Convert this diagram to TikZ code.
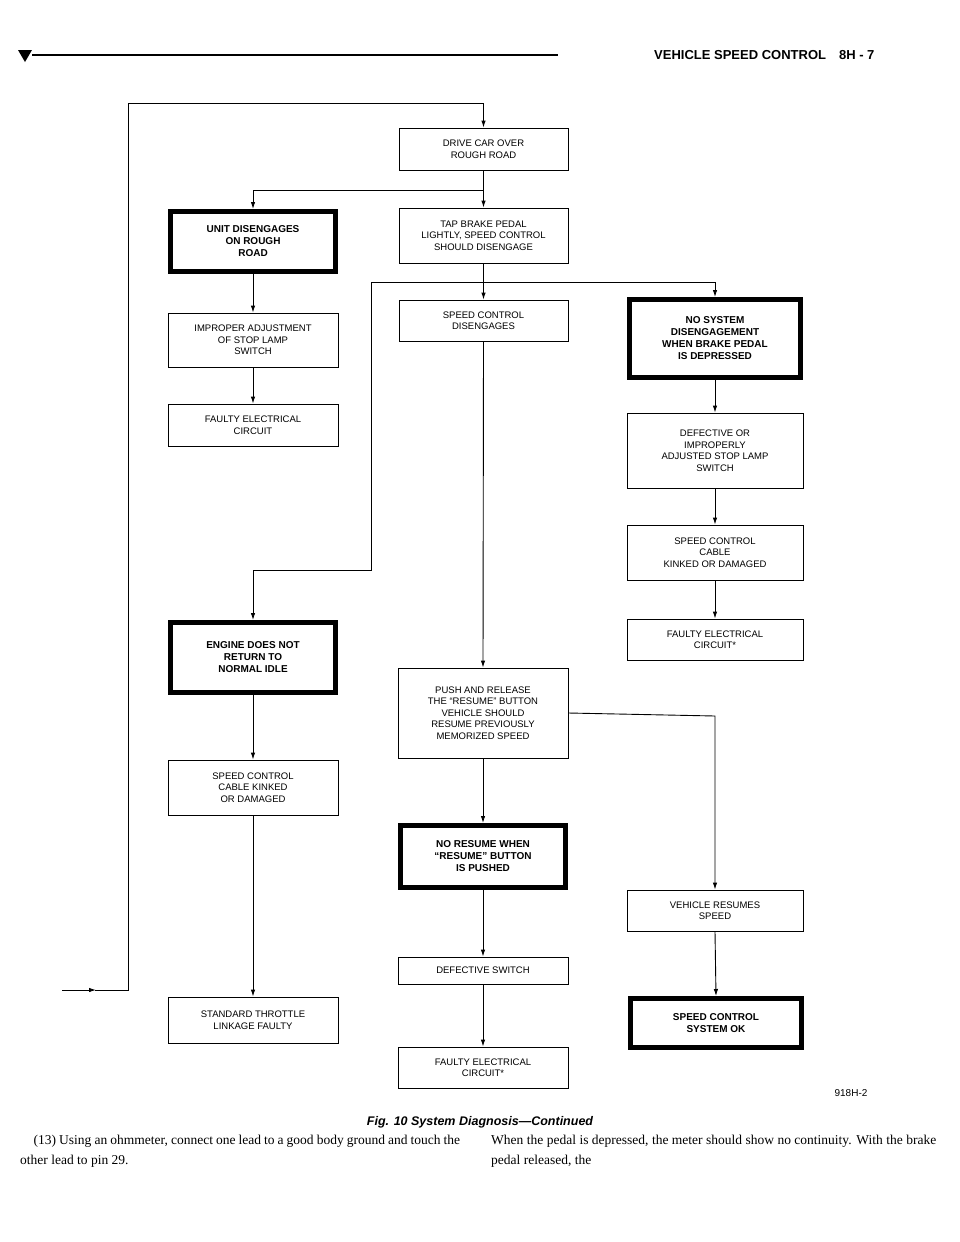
\documentclass[tikz,border=0pt]{standalone}
\usepackage{fontspec}
\setmainfont{Liberation Serif}
\newfontfamily\boxfont{Liberation Sans}
\usetikzlibrary{arrows.meta}
\begin{document}
\begin{tikzpicture}[x=1pt,y=-1pt,
 bx/.style={draw,line width=0.9pt,align=center,inner sep=1pt,font=\boxfont\fontsize{9.5}{11.5}\selectfont},
 tb/.style={draw,line width=5pt,align=center,inner sep=1pt,font=\boxfont\bfseries\fontsize{10}{12}\selectfont},
 ln/.style={line width=0.9pt},
 ar/.style={line width=0.9pt,-{Latex[length=7pt,width=4.5pt]}}]
\useasboundingbox (0,0) rectangle (960,1242);
% header
\fill (18,50) -- (32,50) -- (25,62) -- cycle;
\draw[line width=1.2pt] (32,55) -- (558,55);
\node[anchor=east,font=\boxfont\bfseries\fontsize{13}{15}\selectfont] (hd) at (878,55) {VEHICLE SPEED CONTROL\quad 8H - 7};
% boxes
\node[bx,minimum width=169,minimum height=42] (b1) at (483.5,149) {DRIVE CAR OVER\\ROUGH ROAD};
\node[bx,minimum width=169,minimum height=55] (b2) at (483.5,235.5) {TAP BRAKE PEDAL\\LIGHTLY, SPEED CONTROL\\SHOULD DISENGAGE};
\node[bx,minimum width=169,minimum height=41] (b3) at (483.5,320.5) {SPEED CONTROL\\DISENGAGES};
\node[bx,minimum width=170,minimum height=90] (b4) at (483,713) {PUSH AND RELEASE\\THE “RESUME” BUTTON\\VEHICLE SHOULD\\RESUME PREVIOUSLY\\MEMORIZED SPEED};
\node[tb,minimum width=165,minimum height=62] (n1) at (483,856.5) {NO RESUME WHEN\\“RESUME” BUTTON\\IS PUSHED};
\node[bx,minimum width=170,minimum height=27] (n2) at (483,970.5) {DEFECTIVE SWITCH};
\node[bx,minimum width=170,minimum height=41] (n3) at (483,1067.5) {FAULTY ELECTRICAL\\CIRCUIT*};
\node[tb,minimum width=165,minimum height=60] (l1) at (253,241.5) {UNIT DISENGAGES\\ON ROUGH\\ROAD};
\node[bx,minimum width=170,minimum height=54] (l2) at (253,340) {IMPROPER ADJUSTMENT\\OF STOP LAMP\\SWITCH};
\node[bx,minimum width=170,minimum height=42] (l3) at (253,425) {FAULTY ELECTRICAL\\CIRCUIT};
\node[tb,minimum width=165,minimum height=70] (e1) at (253,657.5) {ENGINE DOES NOT\\RETURN TO\\NORMAL IDLE};
\node[bx,minimum width=170,minimum height=55] (e2) at (253,787.5) {SPEED CONTROL\\CABLE KINKED\\OR DAMAGED};
\node[bx,minimum width=170,minimum height=46] (e3) at (253,1020) {STANDARD THROTTLE\\LINKAGE FAULTY};
\node[tb,minimum width=171,minimum height=78] (r1) at (715,338.5) {NO SYSTEM\\DISENGAGEMENT\\WHEN BRAKE PEDAL\\IS DEPRESSED};
\node[bx,minimum width=176,minimum height=75] (r2) at (715,450.5) {DEFECTIVE OR\\IMPROPERLY\\ADJUSTED STOP LAMP\\SWITCH};
\node[bx,minimum width=176,minimum height=55] (r3) at (715,552.5) {SPEED CONTROL\\CABLE\\KINKED OR DAMAGED};
\node[bx,minimum width=176,minimum height=41] (r4) at (715,639.5) {FAULTY ELECTRICAL\\CIRCUIT*};
\node[bx,minimum width=176,minimum height=41] (v1) at (715,910.5) {VEHICLE RESUMES\\SPEED};
\node[tb,minimum width=171,minimum height=49] (v2) at (716,1023) {SPEED CONTROL\\SYSTEM OK};
% connectors
\coordinate (in) at (62,990);
\draw[ar] (in) -- (96,990);
\draw[ln] (95,990) -- (128,990) -- (128,103) -- (483.5,103);
\draw[ar] (483.5,103) -- (b1.north);
\draw[ar] (b1.south) -- (b2.north);
\draw[ar] (483.5,190) -- (253,190) -- (l1.north);
\draw[ar] (l1.south) -- (l2.north);
\draw[ar] (l2.south) -- (l3.north);
\draw[ar] (b2.south) -- (b3.north);
\draw[ln] (483.5,282) -- (371,282) -- (371,570) -- (253,570);
\draw[ar] (253,570) -- (e1.north);
\draw[ar] (483.5,282) -- (715,282) -- (r1.north);
\draw[ar] (r1.south) -- (r2.north);
\draw[ar] (r2.south) -- (r3.north);
\draw[ar] (r3.south) -- (r4.north);
\draw[ar] (e1.south) -- (e2.north);
\draw[ar] (e2.south) -- (e3.north);
\draw[ar] (b3.south) -- (b4.north);
\draw[ar] (b4.south) -- (n1.north);
\draw[ar] (n1.south) -- (n2.north);
\draw[ar] (n2.south) -- (n3.north);
\draw[ar] (b4.east) -- (715,716) -- (v1.north);
\draw[ar] (v1.south) -- (v2.north);
% captions
\node[font=\boxfont\fontsize{10}{12}\selectfont] (fid) at (851,1093) {918H-2};
\node[font=\boxfont\bfseries\itshape\fontsize{12.5}{14}\selectfont] (cap) at (480,1122) {Fig. 10 System Diagnosis—Continued};
\node[anchor=north west,text width=440pt,align=justify,inner sep=0pt,font=\fontsize{13.5}{20}\selectfont] (t1) at (20,1135) {\hspace*{1em}(13) Using an ohmmeter, connect one lead to a good body ground and touch the other lead to pin 29.};
\node[anchor=north west,text width=445pt,align=justify,inner sep=0pt,font=\fontsize{13.5}{20}\selectfont] (t2) at (491,1135) {When the pedal is depressed, the meter should show no continuity. With the brake pedal released, the\hfill\null};
\end{tikzpicture}
\end{document}
